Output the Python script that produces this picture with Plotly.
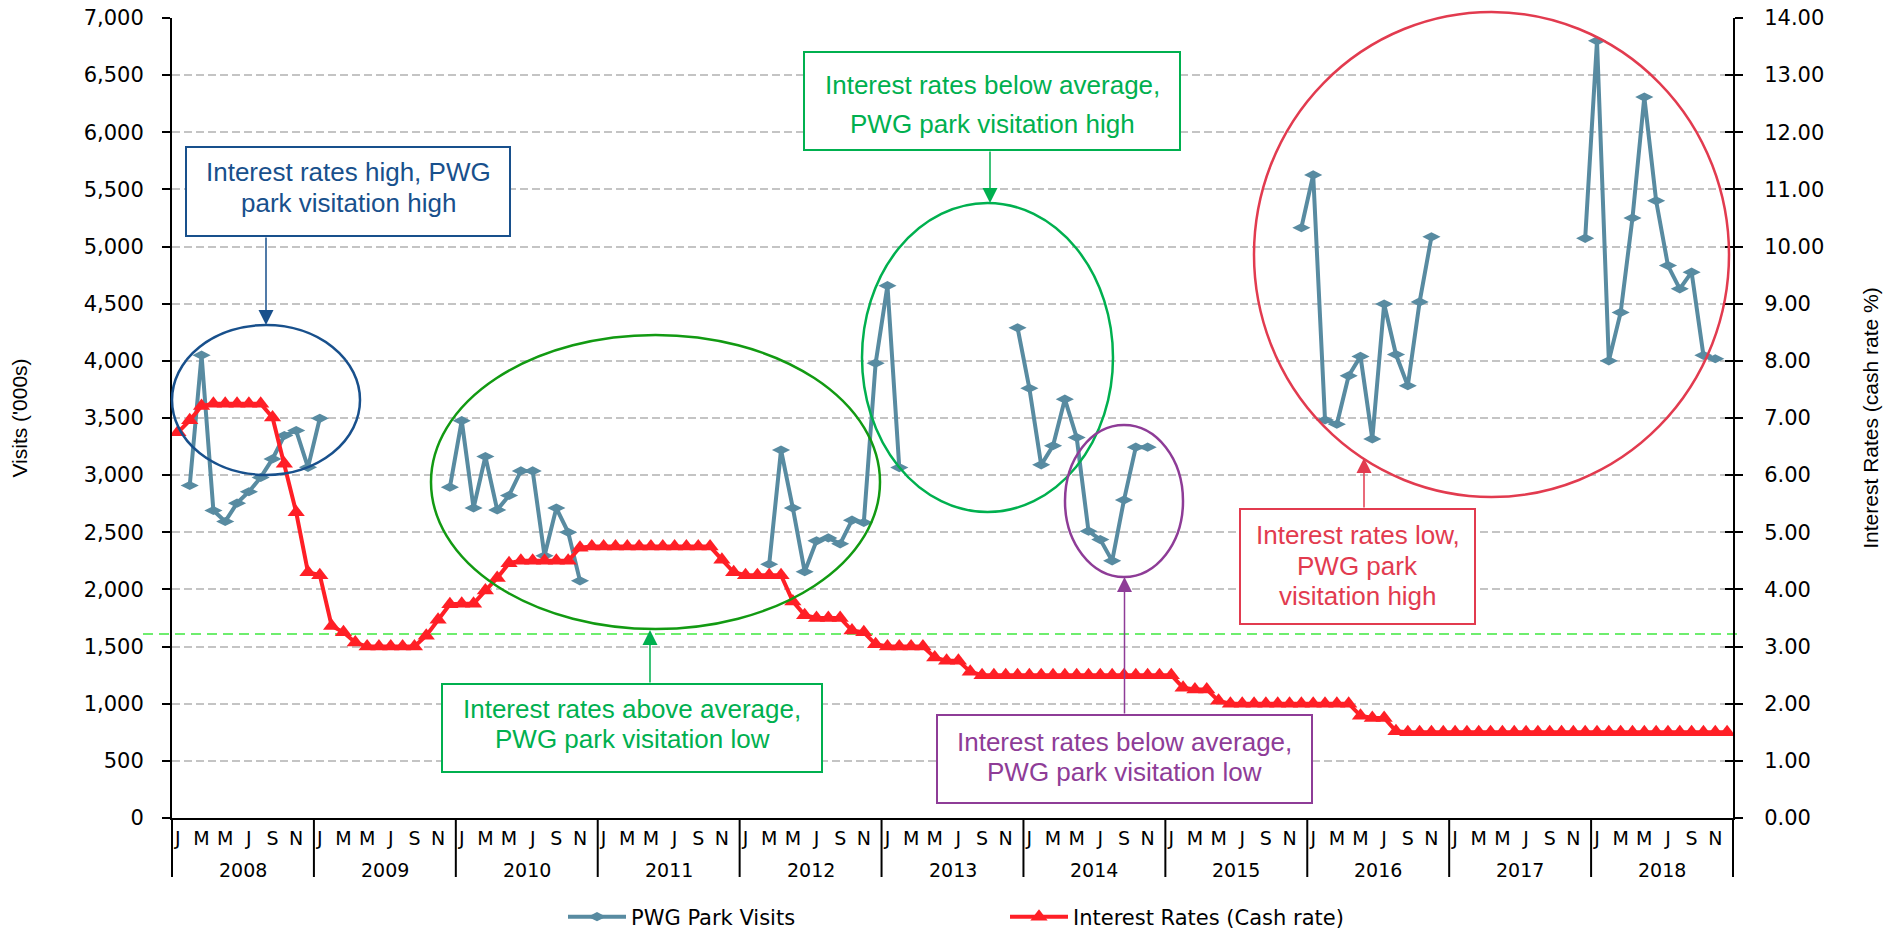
import plotly.graph_objects as go

# ---------------- data ----------------
years = ["2008", "2009", "2010", "2011", "2012", "2013", "2014", "2015", "2016", "2017", "2018"]
month_letters = ["J", "F", "M", "A", "M", "J", "J", "A", "S", "O", "N", "D"]

# PWG park visits ('000s), monthly, gaps where no data
visits_2008 = [None, 2910, 4050, 2690, 2595, 2755, 2855, 2980, 3142, 3347, 3390, 3068]
visits_2009 = [3497, None, None, None, None, None, None, None, None, None, None, 2895]
visits_2010 = [3477, 2713, 3163, 2696, 2822, 3037, 3037, 2295, 2712, 2500, 2075, None]
visits_2011 = [None, None, None, None, None, None, None, None, None, None, None, None]
visits_2012 = [None, None, 2220, 3220, 2712, 2155, 2425, 2451, 2399, 2606, 2586, 3980]
visits_2013 = [4658, 3066, None, None, None, None, None, None, None, None, None, 4290]
visits_2014 = [3760, 3090, 3257, 3665, 3330, 2510, 2436, 2250, 2782, 3245, 3245, None]
visits_2015 = [None, None, None, None, None, None, None, None, None, None, None, 5165]
visits_2016 = [5627, 3483, 3445, 3869, 4039, 3317, 4497, 4055, 3782, 4516, 5085, None]
visits_2017 = [None, None, None, None, None, None, None, None, None, None, None, 5072]
visits_2018 = [6800, 4000, 4424, 5250, 6308, 5401, 4834, 4630, 4776, 4048, 4018, None]

# Interest rates (cash rate %), monthly
rates_2008 = [6.75, 6.96, 7.21, 7.25, 7.25, 7.25, 7.25, 7.25, 7.01, 6.20, 5.35, 4.30]
rates_2009 = [4.25, 3.36, 3.25, 3.07, 3.00, 3.00, 3.00, 3.00, 3.00, 3.19, 3.47, 3.74]
rates_2010 = [3.75, 3.75, 3.98, 4.20, 4.46, 4.50, 4.50, 4.50, 4.50, 4.50, 4.73, 4.75]
rates_2011 = [4.75, 4.75, 4.75, 4.75, 4.75, 4.75, 4.75, 4.75, 4.75, 4.75, 4.52, 4.30]
rates_2012 = [4.25, 4.25, 4.25, 4.25, 3.79, 3.55, 3.50, 3.50, 3.50, 3.28, 3.25, 3.04]
rates_2013 = [3.00, 3.00, 3.00, 3.00, 2.81, 2.75, 2.75, 2.56, 2.50, 2.50, 2.50, 2.50]
rates_2014 = [2.50, 2.50, 2.50, 2.50, 2.50, 2.50, 2.50, 2.50, 2.50, 2.50, 2.50, 2.50]
rates_2015 = [2.50, 2.28, 2.25, 2.25, 2.05, 2.00, 2.00, 2.00, 2.00, 2.00, 2.00, 2.00]
rates_2016 = [2.00, 2.00, 2.00, 2.00, 1.79, 1.75, 1.75, 1.52, 1.50, 1.50, 1.50, 1.50]
rates_2017 = [1.50, 1.50, 1.50, 1.50, 1.50, 1.50, 1.50, 1.50, 1.50, 1.50, 1.50, 1.50]
rates_2018 = [1.50, 1.50, 1.50, 1.50, 1.50, 1.50, 1.50, 1.50, 1.50, 1.50, 1.50, 1.50]

average_rate = 3.22  # green dashed reference line

series_names = ["PWG Park Visits", "Interest Rates (Cash rate)"]
visits_title = "Visits ('000s)"
rates_title = "Interest Rates (cash rate %)"

visits = (visits_2008 + visits_2009 + visits_2010 + visits_2011 + visits_2012 + visits_2013
          + visits_2014 + visits_2015 + visits_2016 + visits_2017 + visits_2018)
rates = (rates_2008 + rates_2009 + rates_2010 + rates_2011 + rates_2012 + rates_2013
         + rates_2014 + rates_2015 + rates_2016 + rates_2017 + rates_2018)
month_keys = [f"{y}-{m + 1:02d}" for y in years for m in range(12)]
x_idx = list(range(len(month_keys)))

# ---------------- styling ----------------
W, H = 1895, 931
PL, PR, PT, PB = 172, 1733, 18, 818  # plot area in px


def px(xp):
    return (xp - PL) / (PR - PL)


def py(yp):
    return (PB - yp) / (PB - PT)


VIS_COL = "#588ba1"
RATE_COL = "#ff1f26"
BLUE = "#18508c"
DKGREEN = "#129a12"
GREEN = "#00b04f"
PURPLE = "#8e3c97"
CRIMSON = "#e23b4f"
TICK_FONT = dict(family="DejaVu Sans", size=21, color="black")
NOTE_FAMILY = "Liberation Sans, Arial, sans-serif"

fig = go.Figure()
fig.add_trace(go.Scatter(
    x=x_idx, y=visits, name=series_names[0], mode="lines+markers",
    line=dict(color=VIS_COL, width=4),
    marker=dict(symbol="diamond-wide", size=13, color=VIS_COL),
    connectgaps=False, yaxis="y", legend="legend", hoverinfo="skip"))
fig.add_trace(go.Scatter(
    x=x_idx, y=rates, name=series_names[1], mode="lines+markers",
    line=dict(color=RATE_COL, width=4),
    marker=dict(symbol="triangle-up", size=15, color=RATE_COL),
    yaxis="y2", legend="legend2", hoverinfo="skip"))
# invisible helper trace so the inner half of the right-axis tick marks is drawn
fig.add_trace(go.Scatter(x=[x_idx[0]], y=[rates[0]], yaxis="y3", mode="markers",
                         marker=dict(opacity=0), showlegend=False, hoverinfo="skip"))

shapes = []
annotations = []

# average line
shapes.append(dict(type="line", xref="paper", yref="y2", x0=px(143), x1=px(1741),
                   y0=average_rate, y1=average_rate, layer="between",
                   line=dict(color="#3fe83f", width=1.5, dash="10px,6px")))

# year separators below the axis and year labels
n_months = len(month_keys)
for k in range(len(years) + 1):
    shapes.append(dict(type="line", xref="paper", yref="paper",
                       x0=12 * k / n_months, x1=12 * k / n_months, y0=0, y1=py(877),
                       line=dict(color="black", width=2)))
for k, yr in enumerate(years):
    annotations.append(dict(text=yr, xref="paper", yref="paper", x=(12 * k + 6) / n_months,
                            y=py(870), showarrow=False, yanchor="middle", xanchor="center",
                            font=dict(family="DejaVu Sans", size=19, color="black")))

# call-outs: box (x0,y0,x1,y1) px, text lines with y centres, arrow tail -> tip, ellipse
callouts = [
    dict(color=BLUE, ell_color=BLUE, box=(186, 147, 510, 236), tx=348,
         lines=[("Interest rates high, PWG", 172), ("park visitation high", 203)],
         tail=(266, 236), tip=(266, 325), ellipse=(172, 325, 360, 475)),
    dict(color=GREEN, ell_color=GREEN, box=(804, 52, 1180, 150), tx=992,
         lines=[("Interest rates below average,", 85), ("PWG park visitation high", 124)],
         tail=(990, 150), tip=(990, 203), ellipse=(862, 203, 1113, 512)),
    dict(color=GREEN, ell_color=DKGREEN, box=(442, 684, 822, 772), tx=632,
         lines=[("Interest rates above average,", 709), ("PWG park visitation low", 739)],
         tail=(650, 684), tip=(650, 630), ellipse=(431, 335, 880, 629)),
    dict(color=PURPLE, ell_color=PURPLE, box=(937, 715, 1312, 803), tx=1124.5,
         lines=[("Interest rates below average,", 742), ("PWG park visitation low", 772)],
         tail=(1124.5, 715), tip=(1124.5, 577), ellipse=(1065, 425, 1183, 577)),
    dict(color=CRIMSON, ell_color=CRIMSON, box=(1240, 509, 1475, 624), tx=1357.5,
         lines=[("Interest rates low,", 535), ("PWG park", 566), ("visitation high", 596)],
         tail=(1364, 509), tip=(1364, 458), ellipse=(1254, 12, 1729, 497)),
]

for c in callouts:
    ex0, ey0, ex1, ey1 = c["ellipse"]
    shapes.append(dict(type="circle", xref="paper", yref="paper",
                       x0=px(ex0), x1=px(ex1), y0=py(ey1), y1=py(ey0), layer="above",
                       line=dict(color=c["ell_color"], width=2.5)))
    bx0, by0, bx1, by1 = c["box"]
    shapes.append(dict(type="rect", xref="paper", yref="paper",
                       x0=px(bx0), x1=px(bx1), y0=py(by1), y1=py(by0), layer="above",
                       fillcolor="white", line=dict(color=c["color"], width=2)))
    for txt, ty in c["lines"]:
        annotations.append(dict(text=txt, xref="paper", yref="paper", x=px(c["tx"]), y=py(ty),
                                showarrow=False, xanchor="center", yanchor="middle",
                                font=dict(family=NOTE_FAMILY, size=26, color=c["color"])))
    (tx0, ty0), (tx1, ty1) = c["tail"], c["tip"]
    annotations.append(dict(text="", xref="paper", yref="paper", x=px(tx1), y=py(ty1),
                            ax=tx0 - tx1, ay=ty0 - ty1, axref="pixel", ayref="pixel",
                            showarrow=True, arrowhead=2, arrowsize=2, arrowwidth=1.5,
                            arrowcolor=c["color"], standoff=0))

fig.update_layout(
    width=W, height=H, autosize=False,
    margin=dict(l=PL, r=W - PR, t=PT, b=H - PB, pad=0, autoexpand=False),
    paper_bgcolor="white", plot_bgcolor="white",
    showlegend=True,
    xaxis=dict(range=[-0.5, n_months - 0.5], tickmode="array",
               tickvals=[i for i in x_idx if i % 2 == 0],
               ticktext=[month_letters[i % 12] for i in x_idx if i % 2 == 0],
               ticks="", showline=True, linecolor="black", linewidth=2, mirror=False,
               showgrid=False, zeroline=False, ticklabelstandoff=2, automargin=False,
               tickfont=dict(family="DejaVu Sans", size=19, color="black")),
    yaxis=dict(range=[0, 7000], dtick=500, tick0=0, tickformat=",", showgrid=True,
               gridcolor="#c4c4c4", gridwidth=1.5, griddash="8px,4px",
               ticks="outside", ticklen=8, tickwidth=2, tickcolor="black",
               showline=True, linecolor="black", linewidth=2, zeroline=False,
               tickfont=TICK_FONT, ticklabelstandoff=14, automargin=False,
               title=dict(text=visits_title, standoff=50,
                          font=dict(family=NOTE_FAMILY, size=21, color="black"))),
    yaxis2=dict(range=[0, 14], dtick=1, tick0=0, tickformat=".2f", overlaying="y",
                side="right", anchor="x", showgrid=False,
                ticks="outside", ticklen=8, tickwidth=2, tickcolor="black",
                showline=True, linecolor="black", linewidth=2, zeroline=False,
                tickfont=TICK_FONT, ticklabelstandoff=17, automargin=False,
                title=dict(text=rates_title, standoff=40,
                           font=dict(family=NOTE_FAMILY, size=21, color="black"))),
    yaxis3=dict(range=[0, 14], dtick=1, tick0=0, overlaying="y", side="right", anchor="x",
                showgrid=False, ticks="inside", ticklen=8, tickwidth=2, tickcolor="black",
                showticklabels=False, showline=False, zeroline=False, automargin=False),
    legend=dict(orientation="h", xref="container", yref="container",
                x=563 / W, y=1 - 917 / H, xanchor="left", yanchor="middle",
                itemwidth=58, font=TICK_FONT, bgcolor="rgba(0,0,0,0)", borderwidth=0),
    legend2=dict(orientation="h", xref="container", yref="container",
                 x=1005 / W, y=1 - 917 / H, xanchor="left", yanchor="middle",
                 itemwidth=58, font=TICK_FONT, bgcolor="rgba(0,0,0,0)", borderwidth=0),
    shapes=shapes,
    annotations=annotations,
)

fig.write_html("out.html", config={"displayModeBar": False},
               post_script="document.body.style.margin='0';document.body.style.overflow='hidden';")
